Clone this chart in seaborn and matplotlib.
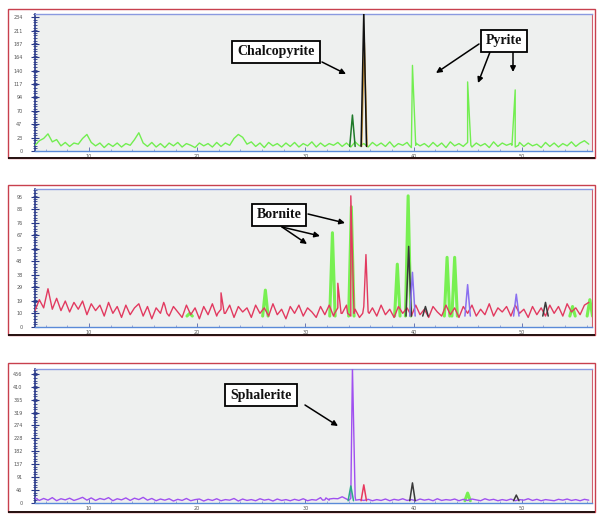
import numpy as np
import pandas as pd
import matplotlib
matplotlib.use("Agg")
import matplotlib.pyplot as plt
from matplotlib.patches import Rectangle, FancyArrowPatch
import seaborn as sns

sns.set_theme(style="white")

# ---------------- data ----------------
x_start, x_step = 5.0, 0.4

base1 = [10, 18, 22, 30, 16, 20, 9, 15, 8, 14,
         12, 22, 29, 15, 9, 14, 6, 13, 8, 14,
         7, 13, 10, 20, 32, 14, 8, 15, 7, 13,
         6, 14, 9, 15, 7, 13, 10, 6, 14, 9,
         13, 7, 15, 8, 14, 10, 22, 29, 24, 12,
         16, 8, 14, 6, 15, 9, 13, 7, 14, 8,
         15, 7, 13, 9, 16, 7, 14, 8, 13, 10,
         15, 8, 14, 7, 16, 9, 13, 7, 15, 9,
         14, 8, 16, 7, 13, 10, 15, 6, 14, 9,
         13, 7, 15, 8, 14, 6, 16, 9, 13, 8,
         15, 7, 14, 9, 13, 6, 16, 8, 14, 10,
         13, 7, 15, 8, 14, 9, 12, 6, 15, 8,
         14, 7, 13, 9, 16, 8, 14, 18, 12]

base2 = [12, 20, 14, 28, 13, 21, 12, 19, 11, 18,
         13, 19, 9, 17, 12, 16, 8, 18, 10, 15,
         7, 16, 9, 14, 17, 8, 15, 6, 14, 10,
         16, 8, 15, 11, 7, 16, 9, 14, 6, 15,
         9, 17, 8, 13, 10, 16, 7, 15, 11, 14,
         7, 16, 10, 14, 8, 17, 9, 13, 6, 15,
         10, 16, 8, 14, 11, 7, 15, 9, 16, 8,
         14, 10, 16, 8, 13, 7, 15, 11, 14, 8,
         16, 9, 13, 7, 15, 10, 14, 8, 16, 9,
         13, 7, 15, 11, 8, 16, 9, 14, 7, 15,
         10, 16, 8, 13, 9, 17, 8, 14, 11, 15,
         8, 16, 10, 13, 7, 15, 9, 14, 8, 16,
         10, 15, 8, 17, 11, 14, 9, 16, 18]

base3 = [18, 9, 16, 10, 19, 8, 15, 11, 17, 9,
         14, 20, 10, 18, 9, 16, 12, 19, 8, 15,
         11, 18, 9, 17, 12, 20, 10, 16, 8, 14,
         10, 15, 7, 13, 9, 16, 8, 12, 14, 7,
         13, 9, 15, 8, 12, 10, 16, 7, 14, 9,
         12, 8, 15, 10, 13, 7, 14, 9, 12, 8,
         13, 9, 15, 8, 12, 10, 19, 11, 14, 16,
         15, 22, 14, 17, 22, 12, 9, 13, 8, 12,
         9, 14, 8, 13, 10, 15, 9, 12, 8, 14,
         10, 13, 8, 15, 9, 12, 10, 14, 8, 13,
         9, 14, 11, 8, 15, 10, 13, 8, 12, 9,
         14, 8, 12, 10, 15, 9, 13, 8, 12, 10,
         8, 13, 10, 14, 9, 12, 8, 13, 10]

# peaks: position (2theta), height, colour key
peaks1_pos = [34.35, 35.45, 35.4, 39.9, 45.0, 49.4]
peaks1_h = [63, 190, 245, 150, 121, 107]
peaks1_c = ["dkgreen", "orange", "black", "main", "main", "main"]

peaks2_pos = [16.9, 19.3, 22.2, 26.3, 32.5, 33.0, 34.2, 34.25, 35.6, 38.5, 39.5, 39.55,
              39.9, 41.1, 43.1, 43.8, 45.0, 49.5, 52.2, 54.7, 56.3]
peaks2_h = [18, 10, 25, 27, 69, 32, 96, 88, 53, 46, 96, 59,
            40, 15, 51, 51, 31, 24, 18, 15, 20]
peaks2_c = ["main", "green", "main", "green", "green", "main", "main", "green", "main", "green",
            "green", "dark", "purple", "dark", "green", "green", "purple", "purple", "dark",
            "green", "green"]

peaks3_pos = [31.9, 34.2, 34.35, 35.4, 39.9, 45.0, 49.5]
peaks3_h = [18, 60, 480, 64, 71, 35, 28]
peaks3_c = ["main", "teal", "main", "pink", "dark", "green", "dark"]

ylim1, ylim2, ylim3 = 240, 101, 473
yticks1 = [0, 23, 47, 70, 94, 117, 140, 164, 187, 211, 234]
yticks2 = [0, 10, 19, 29, 38, 48, 57, 67, 76, 86, 95]
yticks3 = [0, 46, 91, 137, 182, 228, 274, 319, 365, 410, 456]
xticks = [10, 20, 30, 40, 50]

labels1 = ["Chalcopyrite", "Pyrite"]
labels2 = ["Bornite"]
labels3 = ["Sphalerite"]

# ---------------- styling ----------------
W, H = 600, 520
fig = plt.figure(figsize=(6, 5.2), dpi=100)
plt.rcParams["font.family"] = ["DejaVu Sans"]

main_colors = ["#72ee50", "#e23a60", "#a050f0"]
extra = {"dkgreen": "#1f7a2a", "black": "#111111", "green": "#78f052",
         "dark": "#3a3a3a", "purple": "#8a70f0", "pink": "#e8385e",
         "teal": "#2aa88a", "orange": "#d09a3a"}
extra_lw = {"green": 2.2}

axes_px = [(14, 151), (189, 327), (369, 503)]
frames_px = [(9, 158), (185, 335), (363, 512)]
x_left, x_right = 35, 592


def fx(px):
    return px / W


def fy(py):
    return 1 - py / H


def build_main(base, pos, hs, cs):
    xs = [x_start + i * x_step for i in range(len(base))]
    ys = list(base)
    for p, h, c in zip(pos, hs, cs):
        if c == "main":
            xs += [p - 0.3, p, p + 0.3]
            ys += [10, h, 10]
    return pd.DataFrame({"x": xs, "y": ys})


def build_extra(pos, hs, cs):
    rows = []
    for k, (p, h, c) in enumerate(zip(pos, hs, cs)):
        if c != "main":
            for xv, yv in [(p - 0.25, 8), (p, h), (p + 0.25, 8)]:
                rows.append({"x": xv, "y": yv, "pid": k, "col": c})
    return pd.DataFrame(rows)


panels = [
    (base1, peaks1_pos, peaks1_h, peaks1_c, ylim1, yticks1),
    (base2, peaks2_pos, peaks2_h, peaks2_c, ylim2, yticks2),
    (base3, peaks3_pos, peaks3_h, peaks3_c, ylim3, yticks3),
]

for i, (base, pos, hs, cs, ylim, yt) in enumerate(panels):
    top, bot = axes_px[i]
    ft, fb = frames_px[i]
    fig.patches.append(Rectangle((fx(8), fy(fb)), fx(595) - fx(8), fy(ft) - fy(fb),
                                 transform=fig.transFigure, fill=False,
                                 edgecolor="#c8404e", lw=1.0, zorder=0))
    fig.patches.append(Rectangle((fx(8), fy(fb) - 0.002), fx(595) - fx(8), 0.004,
                                 transform=fig.transFigure, facecolor="#2a1414",
                                 edgecolor="none", zorder=0))
    ax = fig.add_axes([fx(x_left), fy(bot), fx(x_right) - fx(x_left), fy(top) - fy(bot)])
    ax.set_facecolor("#eef0ef")
    ex = build_extra(pos, hs, cs)
    # wide green peaks drawn beneath the main trace
    for col in ex["col"].unique() if len(ex) else []:
        sub = ex[ex["col"] == col]
        sns.lineplot(data=sub, x="x", y="y", units="pid", color=extra[col],
                     estimator=None, ax=ax, lw=extra_lw.get(col, 1.1),
                     legend=False, sort=False, zorder=2 if col == "green" else 4)
    df = build_main(base, pos, hs, cs)
    sns.lineplot(data=df, x="x", y="y", ax=ax, color=main_colors[i], lw=1.0,
                 sort=True, estimator=None, zorder=3)
    ax.set_xlim(x_start, 56.5)
    ax.set_ylim(0, ylim)
    ax.set_xlabel("")
    ax.set_ylabel("")
    ax.set_yticks(yt)
    ax.set_yticklabels([str(v) for v in yt])
    ax.set_yticks(np.arange(0, ylim, yt[1] / 5.0), minor=True)
    ax.set_xticks(xticks)
    ax.set_xticklabels([str(v) for v in xticks])
    ax.set_xticks(np.arange(6, 57, 2), minor=True)
    ax.tick_params(axis="y", which="major", direction="inout", length=6, width=0.8,
                   color="#2a3a8a", labelsize=3.5, labelcolor="#555555", pad=6, left=True)
    ax.tick_params(axis="y", which="minor", direction="inout", length=3, width=0.6,
                   color="#2a3a8a", left=True)
    ax.tick_params(axis="x", which="major", direction="in", length=3, width=0.6,
                   color="#5566aa", labelsize=3.5, labelcolor="#555555", pad=2, bottom=True)
    ax.tick_params(axis="x", which="minor", direction="in", length=1.5, width=0.5,
                   color="#7788cc", bottom=True)
    ax.spines["left"].set_color("#2a3a8a")
    ax.spines["left"].set_linewidth(1.2)
    ax.spines["bottom"].set_color("#5a8ad8")
    ax.spines["bottom"].set_linewidth(1.0)
    ax.spines["top"].set_color("#8a9ae0")
    ax.spines["top"].set_linewidth(1.0)
    ax.spines["right"].set_color("#d06070")
    ax.spines["right"].set_linewidth(0.8)

boxkw = dict(boxstyle="square,pad=0.35", fc="white", ec="black", lw=1.3)
tkw = dict(family="Liberation Serif", fontsize=10, fontweight="bold",
           ha="center", va="center", color="#111111")
arrkw = dict(arrowstyle="-|>", color="black", lw=1.1, mutation_scale=8,
             shrinkA=0, shrinkB=0)


def arrow(p0, p1):
    fig.add_artist(FancyArrowPatch((fx(p0[0]), fy(p0[1])), (fx(p1[0]), fy(p1[1])),
                                   transform=fig.transFigure, **arrkw))


fig.text(fx(276), fy(52), labels1[0], bbox=boxkw, **tkw)
arrow((322, 62), (346, 74))
fig.text(fx(504), fy(41), labels1[1], bbox=boxkw, **tkw)
arrow((479, 44), (436, 73))
arrow((490, 52), (478, 83))
arrow((513, 52), (513, 72))

fig.text(fx(279), fy(215), labels2[0], bbox=boxkw, **tkw)
arrow((308, 214), (345, 223))
arrow((282, 227), (320, 236))
arrow((282, 227), (307, 244))

fig.text(fx(261), fy(395), labels3[0], bbox=boxkw, **tkw)
arrow((305, 405), (338, 426))

fig.savefig("out.png", dpi=100, facecolor="white")
